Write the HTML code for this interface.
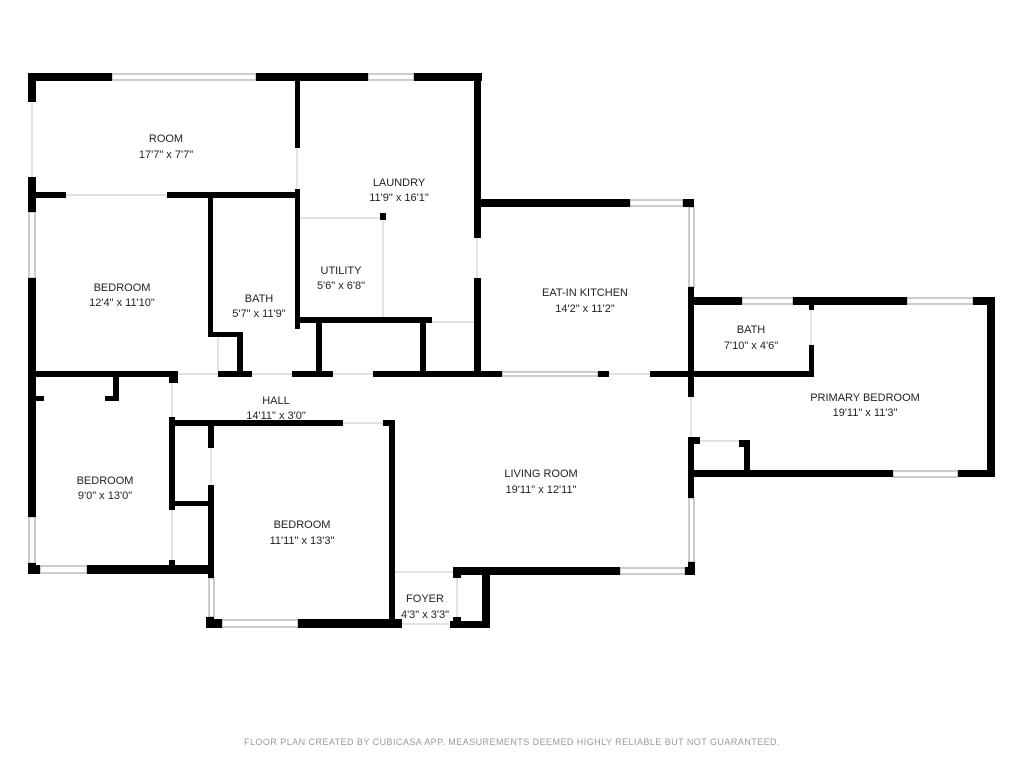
<!DOCTYPE html>
<html><head><meta charset="utf-8"><style>
html,body{margin:0;padding:0;background:#fff;}
svg{display:block;}
text{font-family:"Liberation Sans",sans-serif;font-size:11px;fill:#222;text-anchor:middle;}
.w{fill:#000;}
.win{fill:#fff;stroke:#999;stroke-width:1;}
.lt{stroke:#e2e2e2;stroke-width:2;fill:none;}
</style></head><body>
<svg width="1024" height="768" viewBox="0 0 1024 768" xmlns="http://www.w3.org/2000/svg">
<g class="lt">
<line x1="32" y1="102" x2="32" y2="177"/>
<line x1="66" y1="195" x2="167" y2="195"/>
<line x1="297" y1="148" x2="297" y2="189"/>
<line x1="477" y1="238" x2="477" y2="278"/>
<line x1="300" y1="218" x2="383" y2="218"/>
<line x1="383" y1="218" x2="383" y2="317"/>
<line x1="432" y1="322" x2="474" y2="322"/>
<line x1="178" y1="374" x2="218" y2="374"/>
<line x1="252" y1="374" x2="292" y2="374"/>
<line x1="333" y1="374" x2="373" y2="374"/>
<line x1="609" y1="374" x2="650" y2="374"/>
<line x1="172" y1="383" x2="172" y2="417"/>
<line x1="343" y1="423" x2="383" y2="423"/>
<line x1="172" y1="510" x2="172" y2="560"/>
<line x1="211" y1="448" x2="211" y2="485"/>
<line x1="218" y1="337" x2="218" y2="371"/>
<line x1="691" y1="397" x2="691" y2="437"/>
<line x1="811" y1="310" x2="811" y2="345"/>
<line x1="700" y1="441" x2="739" y2="441"/>
<line x1="402" y1="624" x2="450" y2="624"/>
<line x1="394" y1="572" x2="453" y2="572"/>
<line x1="457" y1="578" x2="457" y2="617"/>
</g>
<g class="win">
<rect x="112" y="74" width="144" height="6"/>
<rect x="368" y="74" width="46" height="6"/>
<rect x="29" y="212" width="6" height="66"/>
<rect x="29" y="517" width="6" height="46"/>
<rect x="40" y="566" width="47" height="7"/>
<rect x="630" y="200" width="53" height="6"/>
<rect x="689" y="207" width="5" height="80"/>
<rect x="689" y="498" width="5" height="64"/>
<rect x="502" y="372" width="96" height="4"/>
<rect x="742" y="298" width="51" height="6"/>
<rect x="907" y="298" width="66" height="6"/>
<rect x="893" y="471" width="65" height="6"/>
<rect x="620" y="568" width="65" height="6"/>
<rect x="209" y="578" width="5" height="39"/>
<rect x="222" y="620" width="76" height="7"/>
</g>
<g class="w">
<rect x="28" y="73" width="84" height="8"/>
<rect x="256" y="73" width="112" height="8"/>
<rect x="414" y="73" width="68" height="8"/>
<rect x="28" y="73" width="8" height="29"/>
<rect x="28" y="177" width="8" height="35"/>
<rect x="28" y="278" width="8" height="239"/>
<rect x="28" y="563" width="8" height="11"/>
<rect x="36" y="192" width="30" height="6"/>
<rect x="167" y="192" width="133" height="6"/>
<rect x="295" y="81" width="5" height="67"/>
<rect x="295" y="189" width="5" height="140"/>
<rect x="474" y="73" width="7" height="165"/>
<rect x="474" y="278" width="7" height="99"/>
<rect x="474" y="199" width="156" height="8"/>
<rect x="683" y="199" width="11" height="8"/>
<rect x="688" y="287" width="6" height="110"/>
<rect x="688" y="437" width="6" height="61"/>
<rect x="688" y="562" width="7" height="13"/>
<rect x="208" y="198" width="5" height="139"/>
<rect x="208" y="332" width="35" height="5"/>
<rect x="237" y="332" width="6" height="45"/>
<rect x="300" y="317" width="132" height="6"/>
<rect x="316" y="323" width="6" height="54"/>
<rect x="420" y="323" width="6" height="54"/>
<rect x="380" y="213" width="6" height="7"/>
<rect x="28" y="371" width="150" height="6"/>
<rect x="218" y="371" width="34" height="6"/>
<rect x="292" y="371" width="41" height="6"/>
<rect x="373" y="371" width="129" height="6"/>
<rect x="598" y="371" width="11" height="6"/>
<rect x="650" y="371" width="164" height="6"/>
<rect x="688" y="297" width="54" height="8"/>
<rect x="793" y="297" width="114" height="8"/>
<rect x="973" y="297" width="22" height="8"/>
<rect x="987" y="297" width="8" height="180"/>
<rect x="688" y="470" width="205" height="7"/>
<rect x="958" y="470" width="37" height="7"/>
<rect x="809" y="305" width="5" height="5"/>
<rect x="809" y="345" width="5" height="31"/>
<rect x="690" y="437" width="10" height="7"/>
<rect x="739" y="440" width="11" height="7"/>
<rect x="744" y="440" width="6" height="30"/>
<rect x="113" y="377" width="6" height="24"/>
<rect x="105" y="396" width="14" height="5"/>
<rect x="36" y="396" width="8" height="5"/>
<rect x="169" y="417" width="6" height="93"/>
<rect x="169" y="560" width="6" height="5"/>
<rect x="169" y="377" width="9" height="6"/>
<rect x="28" y="565" width="12" height="9"/>
<rect x="87" y="565" width="126" height="9"/>
<rect x="169" y="420" width="174" height="6"/>
<rect x="383" y="420" width="12" height="6"/>
<rect x="389" y="420" width="6" height="208"/>
<rect x="208" y="426" width="6" height="22"/>
<rect x="208" y="485" width="6" height="93"/>
<rect x="206" y="617" width="8" height="11"/>
<rect x="175" y="501" width="33" height="5"/>
<rect x="206" y="619" width="16" height="9"/>
<rect x="298" y="619" width="104" height="9"/>
<rect x="450" y="621" width="40" height="7"/>
<rect x="482" y="567" width="8" height="61"/>
<rect x="453" y="567" width="8" height="11"/>
<rect x="453" y="617" width="8" height="11"/>
<rect x="453" y="567" width="167" height="8"/>
<rect x="685" y="567" width="10" height="8"/>
</g>
<text x="166" y="142">ROOM</text><text x="166" y="158">17'7" x 7'7"</text>
<text x="399" y="186">LAUNDRY</text><text x="399" y="201">11'9" x 16'1"</text>
<text x="341" y="274">UTILITY</text><text x="341" y="289">5'6" x 6'8"</text>
<text x="122" y="291">BEDROOM</text><text x="122" y="306">12'4" x 11'10"</text>
<text x="259" y="302">BATH</text><text x="259" y="317">5'7" x 11'9"</text>
<text x="585" y="296">EAT-IN KITCHEN</text><text x="585" y="312">14'2" x 11'2"</text>
<text x="751" y="333">BATH</text><text x="751" y="349">7'10" x 4'6"</text>
<text x="865" y="401">PRIMARY BEDROOM</text><text x="865" y="416">19'11" x 11'3"</text>
<text x="276" y="404">HALL</text><text x="276" y="419">14'11" x 3'0"</text>
<text x="541" y="477">LIVING ROOM</text><text x="541" y="493">19'11" x 12'11"</text>
<text x="105" y="484">BEDROOM</text><text x="105" y="499">9'0" x 13'0"</text>
<text x="302" y="528">BEDROOM</text><text x="302" y="544">11'11" x 13'3"</text>
<text x="425" y="602">FOYER</text><text x="425" y="618">4'3" x 3'3"</text>
<text x="512" y="745" style="font-size:9px;fill:#999;letter-spacing:0.45px">FLOOR PLAN CREATED BY CUBICASA APP. MEASUREMENTS DEEMED HIGHLY RELIABLE BUT NOT GUARANTEED.</text>
</svg>
</body></html>
